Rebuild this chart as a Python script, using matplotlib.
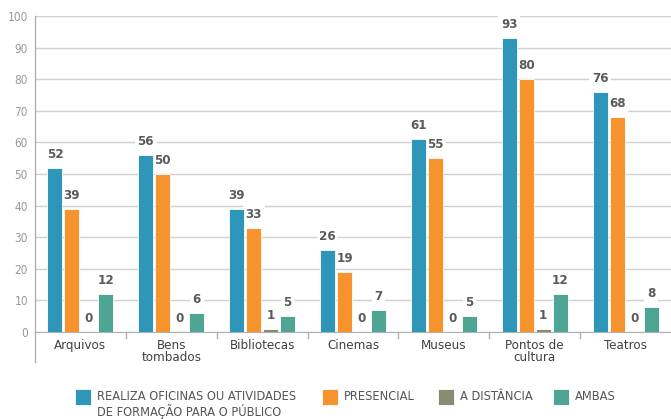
import numpy as np
import matplotlib.pyplot as plt
from matplotlib.patches import Rectangle

categories = ["Arquivos", "Bens\ntombados", "Bibliotecas", "Cinemas", "Museus", "Pontos de\ncultura", "Teatros"]
realiza = [52, 56, 39, 26, 61, 93, 76]
presencial = [39, 50, 33, 19, 55, 80, 68]
distancia = [0, 0, 1, 0, 0, 1, 0]
ambas = [12, 6, 5, 7, 5, 12, 8]

series_names = ["REALIZA OFICINAS OU ATIVIDADES\nDE FORMAÇÃO PARA O PÚBLICO", "PRESENCIAL", "A DISTÂNCIA", "AMBAS"]
colors = ["#2e96b8", "#f7932d", "#8a8a70", "#4fa594"]
legend_x = [75, 322, 438, 553]

plt.rcParams['font.family'] = ['DejaVu Sans']
plt.rcParams['font.stretch'] = 'condensed'

fig = plt.figure(figsize=(6.71, 4.19), dpi=100)
ax = fig.add_axes([35 / 671, 87 / 419, 636 / 671, 316 / 419])

x = np.arange(len(categories))
width = 0.165
step = 0.187
series = [realiza, presencial, distancia, ambas]
for i, (vals, col) in enumerate(zip(series, colors)):
    pos = x + (i - 1.5) * step
    ax.bar(pos, vals, width=width, color=col, edgecolor="white", linewidth=0.6, zorder=3)
    for px, v in zip(pos, vals):
        ax.annotate(str(v), (px, v), xytext=(0, 5), textcoords="offset points",
                    ha="center", va="bottom", fontsize=9.5, fontweight="bold", color="#5a5a5a",
                    bbox=dict(boxstyle="square,pad=0.2", fc="white", ec="none"), zorder=2.5)

ax.set_xlim(-0.5, len(categories) - 0.5)
ax.set_ylim(0, 100)
ax.set_yticks(range(0, 101, 10))
ax.yaxis.grid(True, color="#d0d0d0", linewidth=1, zorder=0)
ax.tick_params(axis="y", length=0, labelsize=8.5, labelcolor="#999999", pad=5)
ax.set_xticks(x)
ax.set_xticklabels(categories, fontsize=9.5, color="#404040", linespacing=0.9)
ax.tick_params(axis="x", length=0, pad=5)
for s in ["top", "right", "left"]:
    ax.spines[s].set_visible(False)
ax.spines["bottom"].set_color("#b0b0b0")

# category separators below baseline
for b in x[:-1] + 0.5:
    ax.plot([b, b], [0, -0.02], transform=ax.get_xaxis_transform(), color="#b0b0b0",
            linewidth=1, clip_on=False)
# left axis line extending below zero
ax.plot([0, 0], [-0.095, 1], transform=ax.transAxes, color="#b0b0b0", linewidth=1, clip_on=False)

# legend
W, H = 671, 419
for lx, name, col in zip(legend_x, series_names, colors):
    fig.patches.append(Rectangle((lx / W, (H - 405) / H), 16 / W, 16 / H, transform=fig.transFigure,
                                 facecolor=col, edgecolor="white", linewidth=0.6))
    fig.text((lx + 22) / W, (H - 390) / H, name, ha="left", va="top", fontsize=9.2,
             color="#555555", linespacing=1.08)

fig.savefig("out.png", dpi=100)
